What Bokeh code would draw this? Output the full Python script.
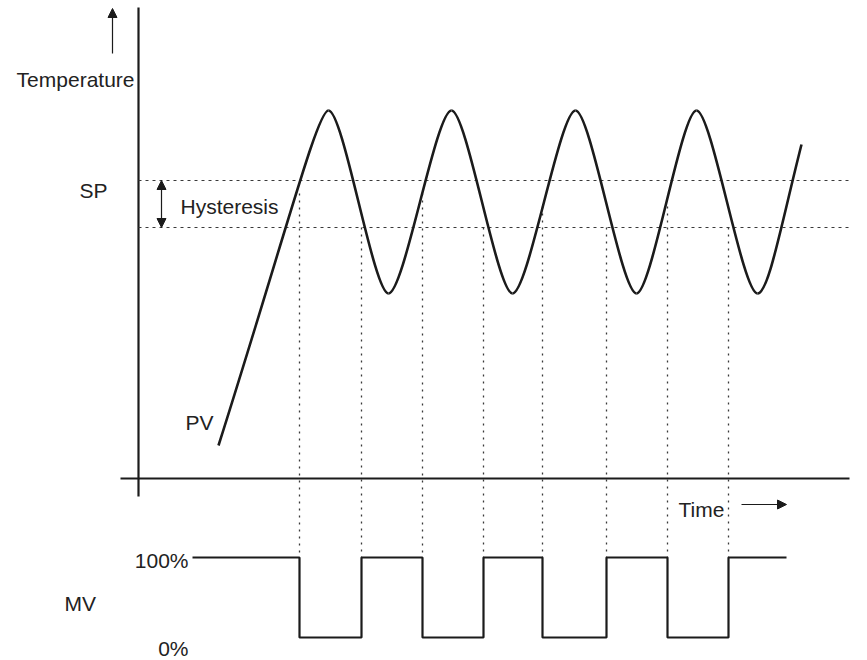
from bokeh.plotting import figure
from bokeh.models import Range1d, Label, Arrow, NormalHead
from bokeh.embed import file_html
from bokeh.resources import INLINE

# ---- data (diagram units) ----
# PV curve key points: start, then alternating peaks / troughs, end
pv_t = [218, 328, 388, 451, 512, 575, 636, 696, 757, 801]
pv_v = [445, 110, 293, 110, 293, 110, 293, 110, 293, 144]
# points the straight first / last legs pass through (lower hysteresis line crossings)
first_leg_through = (287, 227)
last_leg_through = (780, 227)

sp_level = 180          # set point
sp_lower = 227          # set point - hysteresis

# MV switching times and levels (%)
mv_t = [192, 299, 361, 422, 483, 542, 606, 667, 728, 786]
mv_v = [100, 0, 100, 0, 100, 0, 100, 0, 100, 100]
# top of the dotted guide at each switching time
guide_top = [193, 227, 193, 227, 206, 227, 206, 227]

time_axis_level = 478
temp_axis_time = 138

INK = "#1b1b1b"
TXT = "#222222"
DOT = "#3a3a3a"
FONT = "Liberation Sans"

W, H = 867, 660
p = figure(width=W, height=H, output_backend="svg", toolbar_location=None,
           x_range=Range1d(0, W), y_range=Range1d(H, 0),
           min_border=0)
p.axis.visible = False
p.grid.visible = False
p.outline_line_color = None
p.background_fill_color = "white"

# MV uses its own range: 0% -> 637, 100% -> 557 on the page
p.extra_y_ranges = {"mv": Range1d(start=(637 - H) / 0.8, end=(637 - 0) / 0.8)}

# axes
p.segment(x0=[temp_axis_time], y0=[7], x1=[temp_axis_time], y1=[496], line_color=INK, line_width=2.2)
p.segment(x0=[120], y0=[time_axis_level], x1=[849], y1=[time_axis_level], line_color=INK, line_width=2.2)

# hysteresis band lines
p.segment(x0=[temp_axis_time, temp_axis_time], y0=[sp_level, sp_lower], x1=[851, 851], y1=[sp_level, sp_lower],
          line_color=DOT, line_width=1.1, line_dash="3 4")

# vertical dotted guides down to MV 100%
mv_top_px = 637 - 100 * 0.8
p.segment(x0=mv_t[1:-1], y0=guide_top, x1=mv_t[1:-1], y1=[mv_top_px] * len(guide_top),
          line_color=DOT, line_width=1.3, line_dash="2 5")

# PV curve as bezier segments
a = 0.25
x0s, y0s, x1s, y1s, cx0, cy0, cx1, cy1 = [], [], [], [], [], [], [], []
n = len(pv_t)
for i in range(n - 1):
    xa, ya, xb, yb = pv_t[i], pv_v[i], pv_t[i + 1], pv_v[i + 1]
    dx = xb - xa
    if i == 0:
        c0 = first_leg_through
        c1 = (xb - 0.1 * dx, yb)
    elif i == n - 2:
        c0 = (xa + a * dx, ya)
        c1 = last_leg_through
    else:
        c0 = (xa + a * dx, ya)
        c1 = (xb - a * dx, yb)
    x0s.append(xa); y0s.append(ya); x1s.append(xb); y1s.append(yb)
    cx0.append(c0[0]); cy0.append(c0[1]); cx1.append(c1[0]); cy1.append(c1[1])
p.bezier(x0=x0s, y0=y0s, x1=x1s, y1=y1s, cx0=cx0, cy0=cy0, cx1=cx1, cy1=cy1,
         line_color=INK, line_width=2.6)

# MV step line
p.step(x=mv_t, y=mv_v, mode="after", y_range_name="mv", line_color=INK, line_width=2.2)

# arrows
p.add_layout(Arrow(end=NormalHead(size=9, fill_color=INK, line_color=INK, line_width=1),
                   x_start=112, y_start=53, x_end=112, y_end=8, line_color=INK, line_width=1.2))
p.add_layout(Arrow(start=NormalHead(size=9, fill_color=INK, line_color=INK, line_width=1),
                   end=NormalHead(size=9, fill_color=INK, line_color=INK, line_width=1),
                   x_start=161, y_start=sp_lower, x_end=161, y_end=sp_level, line_color=INK, line_width=1.2))
p.add_layout(Arrow(end=NormalHead(size=9, fill_color=INK, line_color=INK, line_width=1),
                   x_start=741, y_start=504, x_end=786, y_end=504, line_color=INK, line_width=1.2))

# labels
def lab(txt, x, y, align="left"):
    p.add_layout(Label(x=x, y=y - 7, text=txt, text_font=FONT, text_font_size="21px",
                       text_color=TXT, text_align=align, text_baseline="alphabetic"))

lab("Temperature", 134, 86, "right")
lab("SP", 79, 197)
lab("Hysteresis", 180, 213)
lab("PV", 185, 429)
lab("Time", 678, 516)
lab("100%", 188, 567, "right")
lab("MV", 64, 610)
lab("0%", 188, 655, "right")

open("out.html", "w").write(file_html(p, INLINE))
